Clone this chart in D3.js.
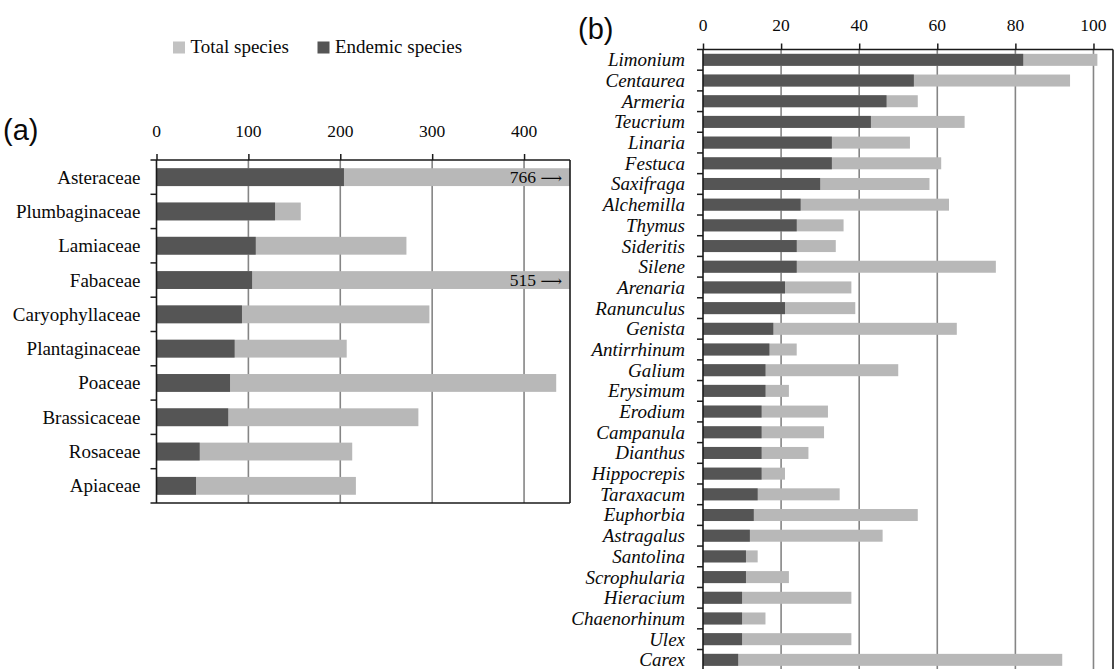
<!DOCTYPE html>
<html>
<head>
<meta charset="utf-8">
<script src="https://cdn.jsdelivr.net/npm/d3@7/dist/d3.min.js"></script>
<style>
  html, body { margin: 0; padding: 0; background: #fff; }
  svg { display: block; }
  text { font-family: "Liberation Serif", "Times New Roman", serif; fill: #0a0a0a; }
</style>
</head>
<body>
<svg id="chart" width="1115" height="669"></svg>
<script>
// ---- Data: panel (a) families ----
const famCategories = ["Asteraceae", "Plumbaginaceae", "Lamiaceae", "Fabaceae", "Caryophyllaceae",
  "Plantaginaceae", "Poaceae", "Brassicaceae", "Rosaceae", "Apiaceae"];
const famEndemic = [204, 129, 108, 104, 93, 85, 80, 78, 47, 43];
const famTotal   = [766, 157, 272, 515, 297, 207, 435, 285, 213, 217];
const famTicks   = [0, 100, 200, 300, 400];
const famMax     = 450;

// ---- Data: panel (b) genera ----
const genCategories = ["Limonium", "Centaurea", "Armeria", "Teucrium", "Linaria", "Festuca", "Saxifraga",
  "Alchemilla", "Thymus", "Sideritis", "Silene", "Arenaria", "Ranunculus", "Genista", "Antirrhinum",
  "Galium", "Erysimum", "Erodium", "Campanula", "Dianthus", "Hippocrepis", "Taraxacum", "Euphorbia",
  "Astragalus", "Santolina", "Scrophularia", "Hieracium", "Chaenorhinum", "Ulex", "Carex"];
const genEndemic = [82, 54, 47, 43, 33, 33, 30, 25, 24, 24, 24, 21, 21, 18, 17, 16, 16, 15, 15, 15, 15, 14,
  13, 12, 11, 11, 10, 10, 10, 9];
const genTotal = [101, 94, 55, 67, 53, 61, 58, 63, 36, 34, 75, 38, 39, 65, 24, 50, 22, 32, 31, 27, 21, 35,
  55, 46, 14, 22, 38, 16, 38, 92];
const genTicks = [0, 20, 40, 60, 80, 100];
const genMax   = 105;

const legendLabels = ["Total species", "Endemic species"];

const COL_TOTAL = "#b8b8b8";
const COL_END = "#555555";
const COL_LEGEND_TOTAL = "#c2c2c2";

const svg = d3.select("#chart");

function panel(opts) {
  const { cats, endemic, total, ticks, max, left, right, top, bottom, padIn, italic,
          labelFont, tickFont, tickBaseline, overflowLabels } = opts;
  const g = svg.append("g");
  const x = d3.scaleLinear().domain([0, max]).range([left, right]).clamp(true);
  const y = d3.scaleBand().domain(cats).range([top, bottom]).paddingInner(padIn).paddingOuter(padIn / 2);

  // gridlines
  g.selectAll("line.grid").data(ticks.filter(t => t > 0)).join("line")
    .attr("x1", d => x(d)).attr("x2", d => x(d))
    .attr("y1", top).attr("y2", bottom)
    .attr("stroke", "#858585").attr("stroke-width", 1.6);

  // total bars
  g.selectAll("rect.total").data(cats).join("rect")
    .attr("x", x(0)).attr("y", d => y(d))
    .attr("width", (d, i) => x(total[i]) - x(0))
    .attr("height", y.bandwidth())
    .attr("fill", COL_TOTAL);
  // endemic bars
  g.selectAll("rect.end").data(cats).join("rect")
    .attr("x", x(0)).attr("y", d => y(d))
    .attr("width", (d, i) => x(endemic[i]) - x(0))
    .attr("height", y.bandwidth())
    .attr("fill", COL_END);

  // overflow labels (values beyond the axis)
  if (overflowLabels) {
    cats.forEach((c, i) => {
      if (total[i] > max) {
        const t = g.append("text")
          .attr("x", right - 8).attr("y", y(c) + y.bandwidth() / 2)
          .attr("dy", "0.36em").attr("text-anchor", "end")
          .style("font-size", tickFont + "px");
        t.append("tspan").text(total[i] + " ");
        t.append("tspan").style("font-family", "'DejaVu Serif', serif").style("font-size", "15px")
          .text("\u27F6");
      }
    });
  }

  // top axis ticks
  const ax = d3.axisTop(x).tickValues(ticks).tickSize(6).tickSizeOuter(0).tickPadding(0);
  const axG = g.append("g").attr("transform", `translate(0,${top})`).call(ax);
  axG.select(".domain").remove();
  axG.selectAll(".tick line").attr("stroke", "#1a1a1a").attr("stroke-width", 1.5);
  axG.selectAll(".tick text").remove();
  g.selectAll("text.tick").data(ticks).join("text")
    .attr("x", d => x(d)).attr("y", tickBaseline)
    .attr("text-anchor", "middle")
    .style("font-size", tickFont + "px")
    .text(d => d);

  // frame lines
  const step = y.step();
  const stroke = "#1a1a1a";
  g.append("line").attr("x1", left - 6).attr("x2", right).attr("y1", top).attr("y2", top)
    .attr("stroke", stroke).attr("stroke-width", 1.6);
  g.append("line").attr("x1", left).attr("x2", left).attr("y1", top).attr("y2", bottom)
    .attr("stroke", stroke).attr("stroke-width", 1.6);
  g.append("line").attr("x1", right).attr("x2", right).attr("y1", top).attr("y2", bottom)
    .attr("stroke", stroke).attr("stroke-width", 1.6);
  g.append("line").attr("x1", left - 6).attr("x2", right).attr("y1", bottom).attr("y2", bottom)
    .attr("stroke", stroke).attr("stroke-width", 1.6);
  // category boundary ticks
  g.selectAll("line.ytick").data(d3.range(1, cats.length)).join("line")
    .attr("x1", left - 6).attr("x2", left)
    .attr("y1", d => top + d * step).attr("y2", d => top + d * step)
    .attr("stroke", stroke).attr("stroke-width", 1.5);

  // category labels
  g.selectAll("text.cat").data(cats).join("text")
    .attr("x", left - (italic ? 18 : 16))
    .attr("y", d => y(d) + y.bandwidth() / 2)
    .attr("dy", "0.34em")
    .attr("text-anchor", "end")
    .style("font-size", labelFont + "px")
    .style("font-style", italic ? "italic" : "normal")
    .text(d => d);
}

panel({ cats: famCategories, endemic: famEndemic, total: famTotal, ticks: famTicks, max: famMax,
  left: 156.5, right: 570, top: 160, bottom: 503, padIn: 0.48, italic: false,
  labelFont: 19, tickFont: 17.5, tickBaseline: 137, overflowLabels: true });

panel({ cats: genCategories, endemic: genEndemic, total: genTotal, ticks: genTicks, max: genMax,
  left: 703, right: 1113, top: 49.5, bottom: 49.5 + 30 * 20.69, padIn: 0.42, italic: true,
  labelFont: 19, tickFont: 17.5, tickBaseline: 31, overflowLabels: false });

// panel letters
svg.append("text").attr("x", 3).attr("y", 140)
  .style("font-family", "'Liberation Sans', Arial, sans-serif").style("font-size", "29px").text("(a)");
svg.append("text").attr("x", 578).attr("y", 39)
  .style("font-family", "'Liberation Sans', Arial, sans-serif").style("font-size", "29px").text("(b)");

// legend
const legendColors = [COL_LEGEND_TOTAL, COL_END];
const legendX = [173, 317.5];
legendLabels.forEach((lab, i) => {
  svg.append("rect").attr("x", legendX[i]).attr("y", 41.5).attr("width", 12).attr("height", 12)
    .attr("fill", legendColors[i]);
  svg.append("text").attr("x", legendX[i] + 17.5).attr("y", 52.5)
    .style("font-size", "19px").text(lab);
});
</script>
</body>
</html>
